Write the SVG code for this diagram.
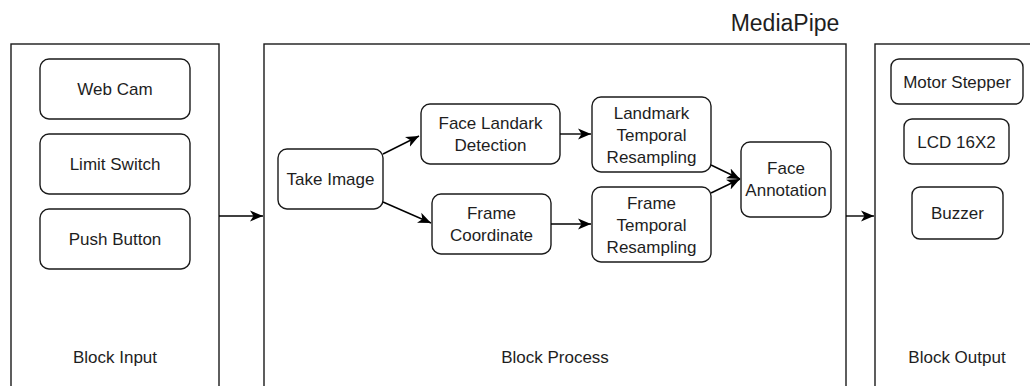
<svg xmlns="http://www.w3.org/2000/svg" width="1030" height="386" viewBox="0 0 1030 386">
<style>
.blk{fill:#fff;stroke:#1a1a1a;stroke-width:1.4}
.nd{fill:#fff;stroke:#1a1a1a;stroke-width:1.4}
.t{font-family:"Liberation Sans",Arial,sans-serif;font-size:17px;fill:#1e1e1e;text-anchor:middle}
.big{font-size:23px}
.c{fill:none;stroke:#000;stroke-width:1.4}
</style>
<defs>
<marker id="ah" markerUnits="userSpaceOnUse" markerWidth="14" markerHeight="12" viewBox="0 0 14 12" refX="13" refY="6" orient="auto">
<path d="M0,0.5 L13,6 L0,11.5 L3.5,6 Z" fill="#000"/>
</marker>
</defs>
<rect width="1030" height="386" fill="#fff"/>
<text class="t big" x="785" y="31">MediaPipe</text>
<g id="block-input">
<rect class="blk" x="11" y="44" width="208" height="360"/>
<text class="t" x="115" y="363">Block Input</text>
</g>
<g id="block-process">
<rect class="blk" x="264" y="44" width="582" height="360"/>
<text class="t" x="555" y="363">Block Process</text>
</g>
<g id="block-output">
<rect class="blk" x="875" y="44" width="164" height="360"/>
<text class="t" x="957" y="363">Block Output</text>
</g>
<g id="web-cam"><rect class="nd" x="40" y="59" width="150" height="60" rx="9"/><text class="t" x="115" y="95">Web Cam</text></g>
<g id="limit-switch"><rect class="nd" x="40" y="134" width="150" height="60" rx="9"/><text class="t" x="115" y="170">Limit Switch</text></g>
<g id="push-button"><rect class="nd" x="40" y="209" width="150" height="60" rx="9"/><text class="t" x="115" y="245">Push Button</text></g>
<g id="take-image"><rect class="nd" x="278" y="149" width="105" height="60" rx="9"/><text class="t" x="330.5" y="185">Take Image</text></g>
<g id="face-landark"><rect class="nd" x="421" y="104" width="139" height="60" rx="9"/><text class="t" x="490.5" y="129">Face Landark</text><text class="t" x="490.5" y="151">Detection</text></g>
<g id="frame-coordinate"><rect class="nd" x="432" y="194" width="119" height="60" rx="9"/><text class="t" x="491.5" y="219">Frame</text><text class="t" x="491.5" y="241">Coordinate</text></g>
<g id="landmark-temporal"><rect class="nd" x="592" y="97" width="119" height="75" rx="9"/><text class="t" x="651.5" y="119">Landmark</text><text class="t" x="651.5" y="141">Temporal</text><text class="t" x="651.5" y="163">Resampling</text></g>
<g id="frame-temporal"><rect class="nd" x="592" y="187" width="119" height="75" rx="9"/><text class="t" x="651.5" y="209">Frame</text><text class="t" x="651.5" y="231">Temporal</text><text class="t" x="651.5" y="253">Resampling</text></g>
<g id="face-annotation"><rect class="nd" x="741" y="142" width="90" height="75" rx="9"/><text class="t" x="786" y="174">Face</text><text class="t" x="786" y="196">Annotation</text></g>
<g id="motor-stepper"><rect class="nd" x="891" y="59" width="132" height="45" rx="8"/><text class="t" x="957" y="88">Motor Stepper</text></g>
<g id="lcd"><rect class="nd" x="904" y="119" width="105" height="45" rx="8"/><text class="t" x="956.5" y="148">LCD 16X2</text></g>
<g id="buzzer"><rect class="nd" x="912" y="187" width="91" height="52" rx="8"/><text class="t" x="957.5" y="219">Buzzer</text></g>
<g id="connectors">
<line class="c" x1="219" y1="216" x2="263" y2="216" marker-end="url(#ah)"/>
<line class="c" x1="846" y1="216" x2="874" y2="216" marker-end="url(#ah)"/>
<line class="c" x1="383" y1="154" x2="419" y2="136" marker-end="url(#ah)"/>
<line class="c" x1="383" y1="202" x2="431" y2="223" marker-end="url(#ah)"/>
<line class="c" x1="560" y1="134" x2="591" y2="134" marker-end="url(#ah)"/>
<line class="c" x1="551" y1="224" x2="591" y2="224" marker-end="url(#ah)"/>
<line class="c" x1="711" y1="165" x2="740" y2="179" marker-end="url(#ah)"/>
<line class="c" x1="711" y1="193" x2="740" y2="179" marker-end="url(#ah)"/>
</g>
</svg>
